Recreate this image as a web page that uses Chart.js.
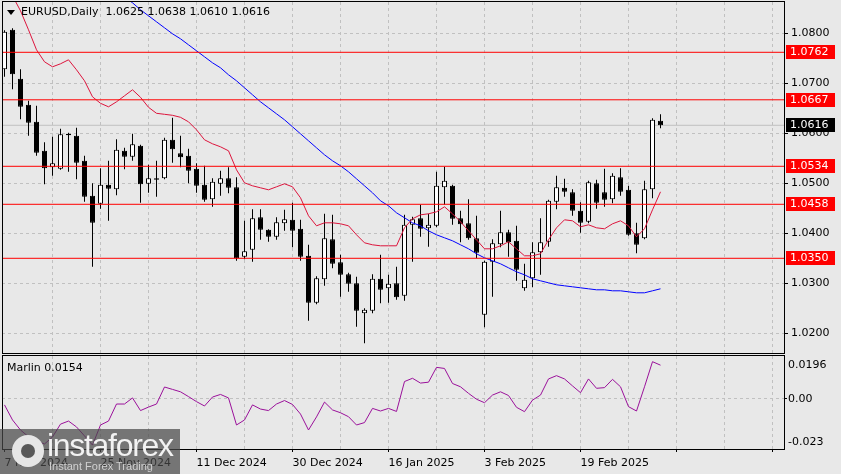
<!DOCTYPE html>
<html>
<head>
<meta charset="utf-8">
<title>EURUSD Daily</title>
<script src="https://cdn.jsdelivr.net/npm/chart.js@4.4.1/dist/chart.umd.min.js"></script>
<style>
  html, body { margin:0; padding:0; }
  body { width:841px; height:474px; position:relative; overflow:hidden; background:#e8e8e8; font-family:"DejaVu Sans", sans-serif; }
  canvas { position:absolute; left:0; }
  #main { top:0; }
  #osc { top:350px; }
  .lbl { position:absolute; font-family:"DejaVu Sans", sans-serif; font-size:11px; line-height:13px; white-space:pre; color:#000; }
  #title { left:21px; top:5px; }
  #tri { position:absolute; left:7px; top:10px; width:0; height:0; border-left:4px solid transparent; border-right:4px solid transparent; border-top:5px solid #000; }
  #mlabel { left:7px; top:361px; }
  #wm { position:absolute; left:0; top:429px; width:180px; height:45px; background:rgba(72,72,72,0.72); overflow:hidden; }
  #wmIcon { position:absolute; left:12px; top:6px; width:24px; height:24px; border-radius:50%; background:#e6e6e6; border:4px dotted #e6e6e6; box-sizing:content-box; }
  #wmHole { position:absolute; left:21px; top:15px; width:14px; height:14px; border-radius:50%; background:rgba(72,72,72,0.9); }
  #wmText { position:absolute; left:47px; top:0px; font-family:"Liberation Sans", sans-serif; font-size:32px; letter-spacing:-1.3px; line-height:32px; color:#f2f2f2; }
  #wmSub { position:absolute; left:49px; top:31px; font-family:"Liberation Sans", sans-serif; font-size:11px; line-height:13px; color:#d0d0d0; }
</style>
</head>
<body>
<canvas id="main" width="841" height="356"></canvas>
<canvas id="osc" width="841" height="124"></canvas>
<div id="tri"></div>
<div id="title" class="lbl"></div>
<div id="mlabel" class="lbl"></div>
<div id="wm"><div id="wmIcon"></div><div id="wmHole"></div><div id="wmText">instaforex</div><div id="wmSub">Instant Forex Trading</div></div>
<script>
// ---------------- DATA ----------------
const symbol = 'EURUSD,Daily';
const dates = [
  '7 Nov 2024','8 Nov 2024','11 Nov 2024','12 Nov 2024','13 Nov 2024','14 Nov 2024','15 Nov 2024','18 Nov 2024','19 Nov 2024','20 Nov 2024',
  '21 Nov 2024','22 Nov 2024','25 Nov 2024','26 Nov 2024','27 Nov 2024','28 Nov 2024','29 Nov 2024','2 Dec 2024','3 Dec 2024','4 Dec 2024',
  '5 Dec 2024','6 Dec 2024','9 Dec 2024','10 Dec 2024','11 Dec 2024','12 Dec 2024','13 Dec 2024','16 Dec 2024','17 Dec 2024','18 Dec 2024',
  '19 Dec 2024','20 Dec 2024','23 Dec 2024','24 Dec 2024','26 Dec 2024','27 Dec 2024','30 Dec 2024','31 Dec 2024','2 Jan 2025','3 Jan 2025',
  '6 Jan 2025','7 Jan 2025','8 Jan 2025','9 Jan 2025','10 Jan 2025','13 Jan 2025','14 Jan 2025','15 Jan 2025','16 Jan 2025','17 Jan 2025',
  '20 Jan 2025','21 Jan 2025','22 Jan 2025','23 Jan 2025','24 Jan 2025','27 Jan 2025','28 Jan 2025','29 Jan 2025','30 Jan 2025','31 Jan 2025',
  '3 Feb 2025','4 Feb 2025','5 Feb 2025','6 Feb 2025','7 Feb 2025','10 Feb 2025','11 Feb 2025','12 Feb 2025','13 Feb 2025','14 Feb 2025',
  '17 Feb 2025','18 Feb 2025','19 Feb 2025','20 Feb 2025','21 Feb 2025','24 Feb 2025','25 Feb 2025','26 Feb 2025','27 Feb 2025','28 Feb 2025',
  '3 Mar 2025','4 Mar 2025','5 Mar 2025'
];
const open = [
  1.0728,1.0807,1.0709,1.0657,1.0623,1.0565,1.0532,1.0529,1.0599,1.0595,
  1.0545,1.0475,1.0459,1.0497,1.0488,1.0565,1.0553,1.0575,1.0499,1.0510,
  1.0510,1.0587,1.0560,1.0555,1.0529,1.0497,1.0468,1.0499,1.0510,1.0492,
  1.0353,1.0367,1.0432,1.0407,1.0393,1.0420,1.0427,1.0409,1.0355,1.0261,
  1.0308,1.0388,1.0342,1.0318,1.0300,1.0240,1.0245,1.0309,1.0290,1.0300,
  1.0275,1.0417,1.0430,1.0410,1.0415,1.0492,1.0495,1.0430,1.0420,1.0390,
  1.0237,1.0343,1.0378,1.0402,1.0385,1.0290,1.0310,1.0362,1.0383,1.0463,
  1.0491,1.0482,1.0445,1.0423,1.0500,1.0482,1.0468,1.0512,1.0487,1.0400,
  1.0390,1.0488,1.0625
];
const high = [
  1.0806,1.0810,1.0728,1.0665,1.0655,1.0582,1.0593,1.0609,1.0601,1.0611,
  1.0555,1.0500,1.0530,1.0545,1.0588,1.0571,1.0599,1.0577,1.0537,1.0545,
  1.0591,1.0631,1.0595,1.0569,1.0540,1.0535,1.0510,1.0525,1.0532,1.0512,
  1.0425,1.0448,1.0448,1.0408,1.0432,1.0447,1.0461,1.0427,1.0377,1.0314,
  1.0439,1.0437,1.0357,1.0321,1.0313,1.0250,1.0318,1.0357,1.0317,1.0333,
  1.0437,1.0433,1.0457,1.0439,1.0523,1.0533,1.0497,1.0445,1.0468,1.0435,
  1.0345,1.0388,1.0445,1.0407,1.0415,1.0339,1.0382,1.0430,1.0467,1.0515,
  1.0509,1.0488,1.0462,1.0505,1.0507,1.0529,1.0520,1.0530,1.0495,1.0421,
  1.0505,1.0630,1.0638
];
const low = [
  1.0713,1.0688,1.0628,1.0595,1.0555,1.0498,1.0515,1.0527,1.0523,1.0508,
  1.0463,1.0333,1.0449,1.0425,1.0476,1.0528,1.0545,1.0461,1.0481,1.0473,
  1.0508,1.0541,1.0532,1.0500,1.0481,1.0463,1.0453,1.0475,1.0480,1.0345,
  1.0348,1.0343,1.0387,1.0383,1.0387,1.0405,1.0372,1.0345,1.0225,1.0258,
  1.0295,1.0330,1.0273,1.0283,1.0213,1.0180,1.0240,1.0260,1.0261,1.0267,
  1.0265,1.0343,1.0393,1.0373,1.0412,1.0457,1.0417,1.0382,1.0387,1.0350,
  1.0212,1.0273,1.0372,1.0353,1.0305,1.0285,1.0292,1.0317,1.0373,1.0448,
  1.0473,1.0435,1.0401,1.0420,1.0449,1.0453,1.0460,1.0475,1.0395,1.0360,
  1.0388,1.0470,1.0610
];
const close = [
  1.0803,1.0718,1.0653,1.0621,1.0561,1.0530,1.0540,1.0598,1.0596,1.0541,
  1.0473,1.0421,1.0497,1.0489,1.0567,1.0553,1.0578,1.0498,1.0510,1.0507,
  1.0587,1.0568,1.0552,1.0525,1.0495,1.0467,1.0503,1.0510,1.0491,1.0350,
  1.0364,1.0430,1.0407,1.0393,1.0422,1.0428,1.0405,1.0353,1.0261,1.0310,
  1.0390,1.0339,1.0317,1.0299,1.0245,1.0247,1.0309,1.0287,1.0299,1.0272,
  1.0417,1.0428,1.0409,1.0417,1.0495,1.0505,1.0429,1.0418,1.0390,1.0361,
  1.0343,1.0380,1.0402,1.0382,1.0327,1.0307,1.0362,1.0382,1.0465,1.0492,
  1.0483,1.0445,1.0421,1.0502,1.0461,1.0467,1.0515,1.0483,1.0397,1.0377,
  1.0488,1.0627,1.0616
];
// red moving average (one value per bar)
const maFast = [
  1.0909,1.0875,1.0845,1.0807,1.0767,1.0743,1.0733,1.0739,1.0747,1.0727,
  1.0705,1.0673,1.0660,1.0653,1.0663,1.0675,1.0687,1.0672,1.0652,1.0640,
  1.0638,1.0636,1.0632,1.0623,1.0607,1.0587,1.0579,1.0573,1.0565,1.0527,
  1.0501,1.0495,1.0491,1.0487,1.0493,1.0499,1.0493,1.0471,1.0435,1.0415,
  1.0421,1.0421,1.0419,1.0415,1.0397,1.0381,1.0377,1.0375,1.0375,1.0375,
  1.0411,1.0429,1.0437,1.0439,1.0443,1.0453,1.0439,1.0423,1.0405,1.0387,
  1.0369,1.0369,1.0375,1.0383,1.0369,1.0355,1.0355,1.0359,1.0387,1.0411,
  1.0427,1.0425,1.0413,1.0417,1.0411,1.0409,1.0419,1.0425,1.0415,1.0393,
  1.0409,1.0447,1.0483
];
// blue moving average, starting at bar index maSlowStart
const maSlowStart = 15;
const maSlow = [
  1.0873,1.0861,1.0847,1.0835,1.0823,1.0811,1.0799,1.0789,1.0777,1.0765,
  1.0753,1.0741,1.0731,1.0717,1.0705,1.0691,1.0677,1.0663,1.0651,1.0639,
  1.0627,1.0613,1.0599,1.0585,1.0571,1.0557,1.0545,1.0535,1.0523,1.0509,
  1.0495,1.0481,1.0465,1.0455,1.0441,1.0431,1.0421,1.0415,1.0405,1.0397,
  1.0391,1.0385,1.0377,1.0369,1.0359,1.0351,1.0345,1.0339,1.0331,1.0323,
  1.0317,1.0309,1.0305,1.0301,1.0297,1.0295,1.0293,1.0291,1.0289,1.0287,
  1.0287,1.0285,1.0285,1.0283,1.0281,1.0281,1.0285,1.0289
];
const marlin = [
  -0.0028,-0.0097,-0.0143,-0.0174,-0.0193,-0.0207,-0.0175,-0.0116,-0.0102,-0.0129,
  -0.0170,-0.0212,-0.0120,-0.0102,-0.0024,-0.0024,0.0004,-0.0054,-0.0038,-0.0024,
  0.0054,0.0043,0.0032,0.0010,-0.0013,-0.0033,0.0008,0.0020,0.0004,-0.0120,
  -0.0097,-0.0028,-0.0047,-0.0054,-0.0024,-0.0008,-0.0026,-0.0070,-0.0143,-0.0083,
  -0.0015,-0.0051,-0.0064,-0.0082,-0.0120,-0.0109,-0.0044,-0.0056,-0.0044,-0.0058,
  0.0079,0.0094,0.0072,0.0076,0.0144,0.0139,0.0070,0.0055,0.0025,-0.0002,
  -0.0018,0.0017,0.0032,0.0015,-0.0039,-0.0059,-0.0006,0.0017,0.0091,0.0106,
  0.0091,0.0059,0.0028,0.0091,0.0048,0.0051,0.0089,0.0055,-0.0036,-0.0056,
  0.0055,0.0170,0.0154
];
const levels = [1.0762, 1.0667, 1.0534, 1.0458, 1.0350];
const lastPrice = 1.0616;
const priceTicks = [1.02, 1.03, 1.04, 1.05, 1.06, 1.07, 1.08];
const marlinTicks = [0.0196, 0, -0.023];
const marlinTickLabels = ['0.0196', '0.00', '-0.023'];

// ---------------- LAYOUT / STYLE ----------------
const BAR_PX = 8;
const PLOT_W = 782;
const X_MIN = -0.3125;
const X_MAX = X_MIN + PLOT_W / BAR_PX;
const P_MIN = 1.01606, P_MAX = 1.08626;
const GRID_STEP = 6, LABEL_STEP = 12, GRID_LAST = 96;
const GRID = '#c0c0c0';
const FONT = { family: 'DejaVu Sans', size: 11 };
const gridTicks = [];
for (let v = 0; v <= GRID_LAST; v += GRID_STEP) gridTicks.push(v);

const n = dates.length;
document.getElementById('title').textContent =
  symbol + '  ' + [open[n-1], high[n-1], low[n-1], close[n-1]].map(v => v.toFixed(4)).join(' ');
document.getElementById('mlabel').textContent = 'Marlin ' + marlin[n-1].toFixed(4);

const bodies = dates.map((d, i) => ({ x: i, y: [Math.min(open[i], close[i]), Math.max(open[i], close[i])] }));
const wicks = dates.map((d, i) => ({ x: i, y: [low[i], high[i]] }));

const gridColor = c => (c.tick && c.tick.value === 0) ? 'rgba(0,0,0,0)' : GRID;

const borderPlugin = {
  id: 'panelBorder',
  afterDatasetsDraw(chart) {
    const { ctx, chartArea: a } = chart;
    ctx.save();
    ctx.strokeStyle = '#000';
    ctx.lineWidth = 1;
    ctx.strokeRect(a.left + 0.5, a.top - 0.5, a.right - a.left, a.bottom - a.top + 1);
    ctx.restore();
  }
};

const priceBoxes = {
  id: 'priceBoxes',
  afterDraw(chart) {
    const { ctx, chartArea: a } = chart;
    const y = chart.scales.y;
    ctx.save();
    ctx.font = '11px "DejaVu Sans"';
    ctx.textBaseline = 'middle';
    ctx.textAlign = 'left';
    const box = (v, col) => {
      const py = Math.round(y.getPixelForValue(v));
      ctx.fillStyle = col;
      ctx.fillRect(a.right + 2, py - 7, 49, 14);
      ctx.fillStyle = '#fff';
      ctx.fillText(v.toFixed(4), a.right + 6, py + 0.5);
    };
    levels.forEach(v => box(v, '#ff0000'));
    box(lastPrice, '#000');
    ctx.restore();
  }
};

const hLine = (v, color, order) => ({
  type: 'line', data: [{ x: X_MIN, y: v }, { x: X_MAX, y: v }],
  borderColor: color, borderWidth: 1, pointRadius: 0, order: order
});

new Chart(document.getElementById('main'), {
  type: 'bar',
  data: {
    datasets: [
      ...levels.map(v => hLine(v, '#ff0000', 0)),
      { type: 'line', data: maFast.map((v, i) => ({ x: i, y: v })), borderColor: '#dc143c', borderWidth: 1, pointRadius: 0, order: 1 },
      { type: 'line', data: maSlow.map((v, i) => ({ x: i + maSlowStart, y: v })), borderColor: '#0000ff', borderWidth: 1, pointRadius: 0, order: 1 },
      { type: 'bar', data: bodies, grouped: false, maxBarThickness: 5, inflateAmount: 0, minBarLength: 1,
        backgroundColor: c => close[c.dataIndex] >= open[c.dataIndex] ? '#ffffff' : '#000000',
        borderColor: '#000', borderWidth: 1, borderSkipped: false, order: 2 },
      { type: 'bar', data: wicks, grouped: false, maxBarThickness: 1, inflateAmount: 0,
        backgroundColor: '#000', borderWidth: 0, order: 3 },
      hLine(lastPrice, '#c0c0c0', 4)
    ]
  },
  options: {
    responsive: false, animation: false, devicePixelRatio: 1,
    layout: { padding: { left: 2, top: 2, right: 0, bottom: 0 } },
    plugins: { legend: { display: false }, tooltip: { enabled: false } },
    scales: {
      x: {
        type: 'linear', min: X_MIN, max: X_MAX, offset: false, bounds: 'data',
        afterBuildTicks: s => { s.ticks = gridTicks.map(v => ({ value: v })); },
        afterFit: s => { s.height = 3; s.paddingLeft = 0; s.paddingRight = 0; },
        ticks: { display: false },
        grid: { offset: false, color: gridColor, drawTicks: false },
        border: { display: false, dash: [3, 3] }
      },
      y: {
        type: 'linear', position: 'right', min: P_MIN, max: P_MAX, bounds: 'data', beginAtZero: false,
        afterBuildTicks: s => { s.ticks = priceTicks.map(v => ({ value: v })); },
        afterFit: s => { s.width = 57; s.paddingTop = 0; s.paddingBottom = 0; },
        ticks: { callback: v => Number(v).toFixed(4), font: FONT, color: '#000', padding: 3 },
        grid: { color: GRID, tickColor: '#000', tickLength: 4 },
        border: { display: false, dash: [3, 3] }
      }
    }
  },
  plugins: [borderPlugin, priceBoxes]
});

const oscLabels = {
  id: 'oscLabels',
  afterDraw(chart) {
    const { ctx, chartArea: a } = chart;
    const s = chart.scales.y;
    ctx.save();
    ctx.font = '11px "DejaVu Sans"';
    ctx.fillStyle = '#000';
    ctx.textBaseline = 'middle';
    ctx.textAlign = 'left';
    marlinTicks.forEach((v, k) => {
      let py = s.getPixelForValue(v);
      if (k === 0) py = a.top + 9;
      else if (k === marlinTicks.length - 1) py = a.bottom - 6.5;
      ctx.fillText(marlinTickLabels[k], a.right + 4, py);
    });
    ctx.restore();
  }
};

new Chart(document.getElementById('osc'), {
  type: 'line',
  data: {
    datasets: [
      { data: marlin.map((v, i) => ({ x: i, y: v })), borderColor: '#9a109a', borderWidth: 1, pointRadius: 0, tension: 0 }
    ]
  },
  options: {
    responsive: false, animation: false, devicePixelRatio: 1,
    layout: { padding: { left: 2, top: 6, right: 0, bottom: 0 } },
    plugins: { legend: { display: false }, tooltip: { enabled: false } },
    scales: {
      x: {
        type: 'linear', min: X_MIN, max: X_MAX, offset: false, bounds: 'data',
        afterBuildTicks: s => { s.ticks = gridTicks.map(v => ({ value: v })); },
        afterFit: s => { s.height = 25; s.paddingLeft = 0; s.paddingRight = 0; },
        ticks: {
          callback: v => (v % LABEL_STEP === 0 && v < dates.length) ? dates[v] : '',
          font: FONT, color: '#000', align: 'start', maxRotation: 0, minRotation: 0, autoSkip: false, padding: 5
        },
        grid: { offset: false, color: gridColor, tickLength: 3,
                tickColor: c => (c.tick && c.tick.value % LABEL_STEP === 0) ? '#000' : 'rgba(0,0,0,0)' },
        border: { display: false, dash: [3, 3] }
      },
      y: {
        type: 'linear', position: 'right', min: marlinTicks[marlinTicks.length - 1], max: marlinTicks[0], bounds: 'data',
        afterBuildTicks: s => { s.ticks = [{ value: marlinTicks[1] }]; },
        afterFit: s => { s.width = 57; s.paddingTop = 0; s.paddingBottom = 0; },
        ticks: { display: false },
        grid: { color: GRID, tickColor: '#000', tickLength: 3 },
        border: { display: false, dash: [3, 3] }
      }
    }
  },
  plugins: [borderPlugin, oscLabels]
});
</script>
</body>
</html>
